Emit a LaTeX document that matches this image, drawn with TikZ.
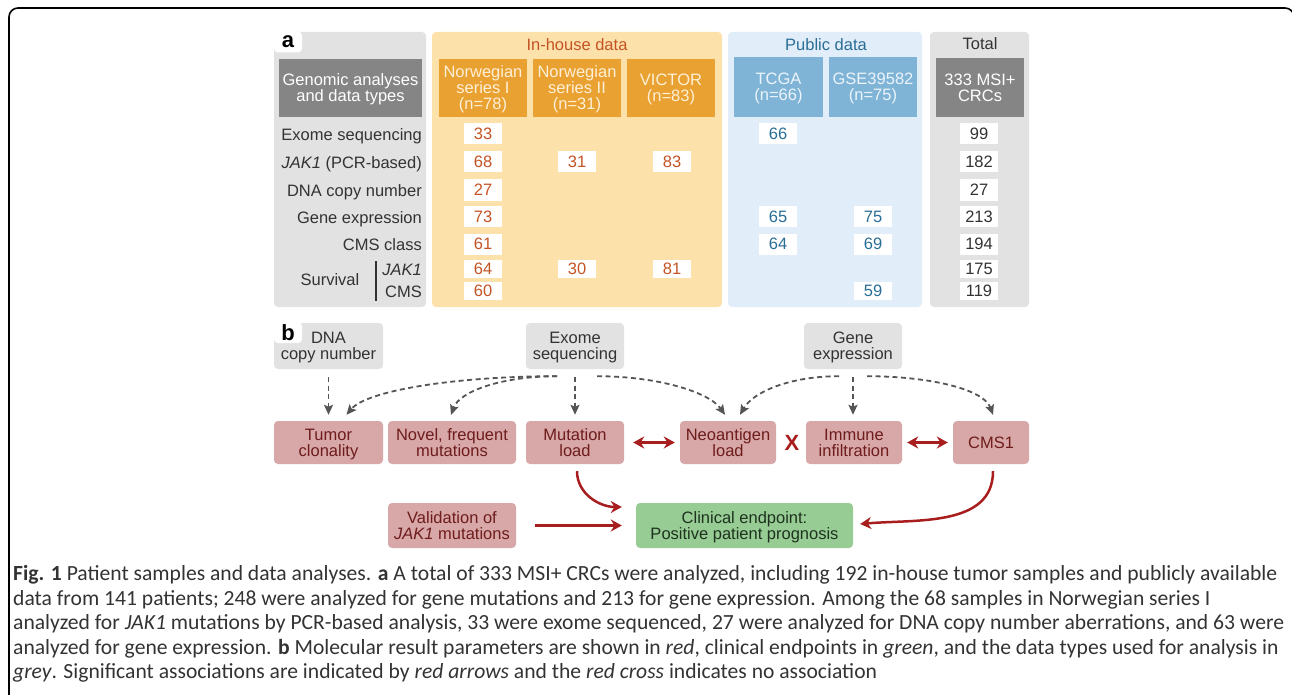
\documentclass[tikz,border=0pt]{standalone}
\usepackage{fontspec}
\setmainfont{Liberation Sans}
\newfontfamily\capfont{Carlito}
\usetikzlibrary{arrows.meta}
\definecolor{panelgrey}{RGB}{226,226,226}
\definecolor{headgrey}{RGB}{133,133,133}
\definecolor{housebg}{RGB}{253,225,171}
\definecolor{househd}{RGB}{233,161,50}
\definecolor{housetx}{RGB}{196,84,36}
\definecolor{hdcream}{RGB}{255,240,215}
\definecolor{pubbg}{RGB}{225,237,249}
\definecolor{pubhd}{RGB}{127,180,215}
\definecolor{pubtx}{RGB}{42,110,150}
\definecolor{hdice}{RGB}{235,244,250}
\definecolor{inktx}{RGB}{51,51,51}
\definecolor{resbox}{RGB}{216,167,167}
\definecolor{restx}{RGB}{110,28,28}
\definecolor{endbox}{RGB}{151,204,149}
\definecolor{endtx}{RGB}{30,50,30}
\definecolor{assoc}{RGB}{168,30,30}
\definecolor{dashgrey}{RGB}{85,85,85}
\begin{document}
\begin{tikzpicture}[x=1pt,y=-1pt,
  font=\fontsize{16.5}{16}\selectfont,
  >={Stealth[length=11pt,width=12pt]},
  hd/.style={minimum height=58pt,inner sep=0pt,align=center,text depth=0pt},
  val/.style={fill=white,minimum width=38pt,minimum height=21pt,inner sep=0pt,text height=11.8pt,text depth=0pt},
  sval/.style={val,minimum height=18pt},
  lab/.style={fill=white,rounded corners=4pt,minimum width=28pt,minimum height=21pt,inner sep=0pt,font=\bfseries\fontsize{22}{22}\selectfont},
  rowlab/.style={anchor=east,text=inktx,inner sep=0pt,text height=11.8pt,text depth=0pt},
  src/.style={fill=panelgrey,text=inktx,rounded corners=4pt,minimum height=46pt,inner sep=0pt,align=center,text depth=0pt},
  res/.style={fill=resbox,text=restx,rounded corners=4pt,minimum height=43pt,inner sep=0pt,align=center,text depth=0pt},
  dline/.style={draw=dashgrey,line width=1.8pt,dash pattern=on 5pt off 3.5pt,-{Stealth[length=10pt,width=9pt,inset=2pt]}},
  sig/.style={draw=assoc,line width=2.5pt},
  capline/.style={anchor=base west,inner sep=0pt,text=inktx,font=\capfont\fontsize{21.6}{21.6}\selectfont}]
\useasboundingbox (0,0) rectangle (1292,695);
\fill[white] (0,0) rectangle (1292,695);
\draw[line width=1.6pt,rounded corners=9pt] (9,8) rectangle (1294,730);

\fill[panelgrey,rounded corners=4pt] (274,32) rectangle (426,307);
\fill[housebg,rounded corners=4pt] (432,32) rectangle (722,307);
\fill[pubbg,rounded corners=4pt] (728,32) rectangle (922,307);
\fill[panelgrey,rounded corners=4pt] (930,32) rectangle (1029,307);
\node[lab] (la) at (288,42) {a};
\node[text=housetx] (inhouse) at (577,45) {In-house data};
\node[text=pubtx] (public) at (826,45) {Public data};
\node[text=inktx] (total) at (980,44) {Total};

\node[hd,fill=headgrey,text=white,minimum width=143pt] (genomic) at (350.5,88) {Genomic analyses\\and data types};
\node[hd,fill=househd,text=hdcream,minimum width=88pt] (nor1) at (483,88) {Norwegian\\series I\\(n=78)};
\node[hd,fill=househd,text=hdcream,minimum width=88pt] (nor2) at (577,88) {Norwegian\\series II\\(n=31)};
\node[hd,fill=househd,text=hdcream,minimum width=88pt] (victor) at (671,88) {VICTOR\\(n=83)};
\node[hd,fill=pubhd,text=hdice,minimum width=89pt,minimum height=60pt] (tcga) at (778.5,87) {TCGA\\(n=66)};
\node[hd,fill=pubhd,text=hdice,minimum width=88pt,minimum height=60pt] (gse) at (873,87) {GSE39582\\(n=75)};
\node[hd,fill=headgrey,text=white,minimum width=88pt,minimum height=59pt] (msi) at (980,87.5) {333 MSI+\\CRCs};

\node[rowlab] (rexo) at (422,135) {Exome sequencing};
\node[rowlab] (rjak) at (422,163) {\textit{JAK1} (PCR-based)};
\node[rowlab] (rdna) at (422,191) {DNA copy number};
\node[rowlab] (rgex) at (422,218) {Gene expression};
\node[rowlab] (rcms) at (422,245) {CMS class};
\node[rowlab] (rsj) at (422,269.5) {\textit{JAK1}};
\node[rowlab] (rsc) at (422,292) {CMS};
\node[text=inktx,inner sep=0pt,text height=11.8pt,text depth=0pt] (rsurv) at (330,280) {Survival};
\draw[inktx,line width=2pt] (376,261) -- (376,301);

\foreach \y/\v in {134/33,162/68,190/27,216.5/73,244/61}
  \node[val,text=housetx] (nor1-\v) at (483,\y) {\v};
\foreach \y/\v in {268.5/64,291/60}
  \node[sval,text=housetx] (nor1-\v) at (483,\y) {\v};
\node[val,text=housetx] (nor2-31) at (577,162) {31};
\node[sval,text=housetx] (nor2-30) at (577,268.5) {30};
\node[val,text=housetx] (victor-83) at (672,162) {83};
\node[sval,text=housetx] (victor-81) at (672,268.5) {81};
\foreach \y/\v in {134/66,216.5/65,244/64}
  \node[val,text=pubtx] (tcga-\v) at (778,\y) {\v};
\foreach \y/\v in {216.5/75,244/69}
  \node[val,text=pubtx] (gse-\v) at (873,\y) {\v};
\node[sval,text=pubtx] (gse-59) at (873,291) {59};
\foreach \y/\v in {134/99,162/182,190/27,216.5/213,244/194}
  \node[val,text=inktx] (tot-\v) at (979,\y) {\v};
\foreach \y/\v in {268.5/175,291/119}
  \node[sval,text=inktx] (tot-\v) at (979,\y) {\v};

\node[src,minimum width=109pt] (dna) at (328.5,346) {DNA\\copy number};
\node[lab] (lb) at (288,332.5) {b};
\node[src,minimum width=98pt] (exo) at (575,346) {Exome\\sequencing};
\node[src,minimum width=98pt] (gex) at (853,346) {Gene\\expression};
\node[res,minimum width=109pt] (tum) at (328.5,442.5) {Tumor\\clonality};
\node[res,minimum width=128pt] (nov) at (452,442.5) {Novel, frequent\\mutations};
\node[res,minimum width=98pt] (mut) at (575,442.5) {Mutation\\load};
\node[res,minimum width=96pt] (neo) at (728,442.5) {Neoantigen\\load};
\node[res,minimum width=96pt] (imm) at (854,442.5) {Immune\\infiltration};
\node[res,minimum width=76pt] (cms) at (991,442.5) {CMS1};
\node[res,minimum width=128pt,minimum height=45pt] (vjak) at (452,525.5) {Validation of\\\textit{JAK1} mutations};
\node[fill=endbox,text=endtx,rounded corners=4pt,minimum width=217pt,minimum height=45pt,inner sep=0pt,align=center,text depth=0pt] (clin) at (744.5,525.5) {Clinical endpoint:\\Positive patient prognosis};
\node[text=assoc,inner sep=0pt,font=\bfseries\fontsize{22}{22}\selectfont] (cross) at (792,443) {X};

\draw[dline] ([yshift=-8pt]dna.south) -- ([yshift=6pt]tum.north);
\draw[dline] ([shift={(-18pt,-7pt)}]exo.south) to[out=180,in=50,out distance=100pt,in distance=32pt] ([shift={(18pt,6pt)}]tum.north);
\draw[dline] ([shift={(-18pt,-7pt)}]exo.south) to[out=180,in=70,out distance=55pt,in distance=25pt] ([shift={(-1pt,6pt)}]nov.north);
\draw[dline] ([yshift=-8pt]exo.south) -- ([yshift=6pt]mut.north);
\draw[dline] ([shift={(22pt,-7pt)}]exo.south) to[out=0,in=125,out distance=60pt,in distance=28pt] ([shift={(-3pt,6pt)}]neo.north);
\draw[dline] ([shift={(-14pt,-7pt)}]gex.south) to[out=180,in=60,out distance=50pt,in distance=26pt] ([shift={(12pt,6pt)}]neo.north);
\draw[dline] ([yshift=-8pt]gex.south) -- ([shift={(-1pt,6pt)}]imm.north);
\draw[dline] ([shift={(14pt,-7pt)}]gex.south) to[out=0,in=110,out distance=60pt,in distance=28pt] ([shift={(2pt,6pt)}]cms.north);

\draw[sig,<->] ([xshift=9pt]mut.east) -- ([xshift=-5pt]neo.west);
\draw[sig,<->] ([xshift=5pt]imm.east) -- ([xshift=-5pt]cms.west);
\draw[sig,->] ([shift={(2pt,-7pt)}]mut.south) to[out=-90,in=180] ([shift={(-14pt,18.5pt)}]clin.west);
\draw[sig,->] ([xshift=19pt]vjak.east) -- ([xshift=-14pt]clin.west);
\draw[sig,->] ([shift={(2pt,-7pt)}]cms.south) to[out=-90,in=5] ([shift={(7pt,1.5pt)}]clin.east);

\node[capline] (cap1) at (13,580.5) {\textbf{Fig. 1} Patient samples and data analyses. \textbf{a} A total of 333 MSI+ CRCs were analyzed, including 192 in-house tumor samples and publicly available};
\node[capline] (cap2) at (13,605) {data from 141 patients; 248 were analyzed for gene mutations and 213 for gene expression. Among the 68 samples in Norwegian series I};
\node[capline] (cap3) at (13,629.5) {analyzed for \textit{JAK1} mutations by PCR-based analysis, 33 were exome sequenced, 27 were analyzed for DNA copy number aberrations, and 63 were};
\node[capline] (cap4) at (13,654) {analyzed for gene expression. \textbf{b} Molecular result parameters are shown in \textit{red}, clinical endpoints in \textit{green}, and the data types used for analysis in};
\node[capline] (cap5) at (13,678.5) {\textit{grey}. Significant associations are indicated by \textit{red arrows} and the \textit{red cross} indicates no association};
\end{tikzpicture}
\end{document}
